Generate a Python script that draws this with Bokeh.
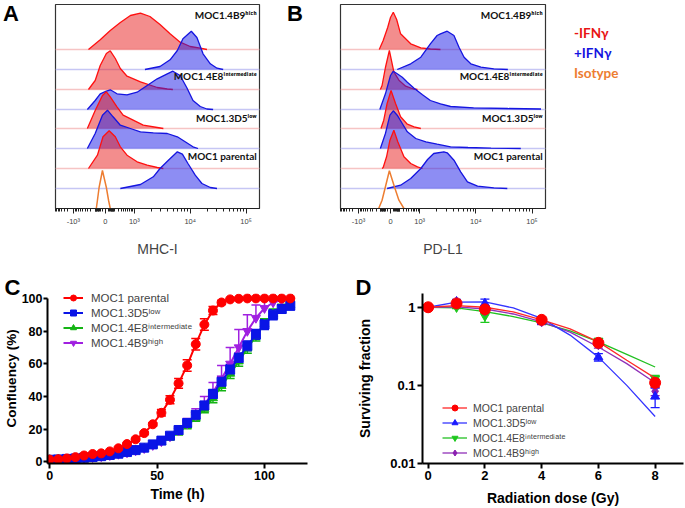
import math
from bokeh.plotting import figure
from bokeh.layouts import row, column
from bokeh.models import (Range1d, FixedTicker, Span, Label, Legend, LegendItem,
                          Whisker, TeeHead, ColumnDataSource, Title, Div)
from bokeh.embed import file_html
from bokeh.resources import INLINE

# ======================= DATA =======================
# --- Panels A/B: flow cytometry histograms (x in logicle display units) ---
flow_tick_values = [-0.57, 0.0, 0.52, 1.52, 2.52]
flow_tick_labels = ["-10³", "0", "10³", "10⁴", "10⁵"]
row_names = ["MOC1.4B9ʰⁱᵍʰ", "MOC1.4E8ⁱⁿᵗᵉʳᵐᵉᵈⁱᵃᵗᵉ", "MOC1.3D5ˡᵒʷ", "MOC1 parental"]
legend_ab = ["-IFNγ", "+IFNγ", "Isotype"]

mhc_4b9_neg_x = [-0.30, -0.09, 0.09, 0.27, 0.45, 0.63, 0.80, 0.98, 1.16, 1.34, 1.52, 1.70, 1.82]
mhc_4b9_neg_y = [0, 9.7, 19, 27, 34, 36.3, 33, 25, 15.7, 7.3, 3, 1.3, 0]
mhc_4b9_pos_x = [0.71, 0.98, 1.16, 1.29, 1.39, 1.54, 1.64, 1.75, 1.88, 2.0, 2.11]
mhc_4b9_pos_y = [0, 3, 9.7, 19, 30.7, 38.3, 32, 15.7, 5.7, 1.3, 0]
mhc_4e8_neg_x = [-0.30, -0.18, -0.09, 0.02, 0.09, 0.18, 0.27, 0.39, 0.63, 0.93, 1.11, 1.21]
mhc_4e8_neg_y = [0, 9, 24, 36, 38.7, 31, 21, 13.3, 7.7, 2, 0.5, 0]
mhc_4e8_pos_x = [-0.32, -0.18, -0.09, 0.02, 0.09, 0.21, 0.39, 0.57, 0.75, 0.93, 1.11, 1.21, 1.34, 1.46, 1.57, 1.70, 1.82, 1.93]
mhc_4e8_pos_y = [0, 9, 15.7, 18.3, 19.7, 15.7, 14.7, 17.3, 24, 30.7, 35.7, 38.3, 34, 21.7, 9, 3, 0.5, 0]
mhc_3d5_neg_x = [-0.32, -0.18, -0.05, 0.02, 0.09, 0.21, 0.32, 0.50, 0.68, 0.93, 1.04]
mhc_3d5_neg_y = [0, 18, 33, 36.7, 31.7, 21.7, 13.3, 8.3, 3.3, 1, 0]
mhc_3d5_pos_x = [-0.32, -0.18, -0.05, 0.04, 0.14, 0.27, 0.45, 0.63, 0.86, 1.11, 1.29, 1.43, 1.57, 1.66]
mhc_3d5_pos_y = [0, 15, 33.3, 38.3, 31.7, 23.3, 20, 16.7, 15.7, 15, 11.7, 6.7, 1.7, 0]
mhc_par_neg_x = [-0.30, -0.14, -0.04, 0.07, 0.18, 0.27, 0.39, 0.57, 0.75, 0.93, 1.04]
mhc_par_neg_y = [0, 13.3, 31.7, 37.7, 31.7, 21.7, 13.3, 6.7, 3.3, 1, 0]
mhc_par_pos_x = [0.27, 0.63, 0.86, 0.98, 1.13, 1.29, 1.38, 1.48, 1.61, 1.73, 1.88, 2.0]
mhc_par_pos_y = [0, 4, 11.7, 20, 28.3, 36.7, 34.3, 25, 13.3, 5, 1, 0]
mhc_iso_x = [-0.16, -0.14, -0.11, -0.05, 0.02, 0.06, 0.09]
mhc_iso_y = [0, 8, 21, 38, 21, 8, 0]

pdl1_4b9_neg_x = [-0.20, -0.13, -0.05, 0.0, 0.05, 0.11, 0.18, 0.36, 0.54, 0.71, 0.89]
pdl1_4b9_neg_y = [0, 9, 22, 32, 37.3, 30, 15.7, 5.7, 1.7, 0.5, 0]
pdl1_4b9_pos_x = [0.12, 0.36, 0.54, 0.71, 0.83, 0.89, 1.01, 1.13, 1.22, 1.31, 1.43, 1.61, 1.84, 2.09]
pdl1_4b9_pos_y = [0, 5.7, 12.3, 25.7, 34, 35.7, 38.3, 34, 22.3, 12.3, 5.7, 2.3, 0.7, 0]
pdl1_4e8_neg_x = [-0.18, -0.15, -0.09, -0.02, 0.06, 0.15, 0.27, 0.41, 0.48]
pdl1_4e8_neg_y = [0, 4, 22, 39, 17.7, 9.3, 3.3, 0.5, 0]
pdl1_4e8_pos_x = [-0.19, -0.09, 0.0, 0.05, 0.12, 0.21, 0.30, 0.42, 0.57, 0.71, 0.89, 1.07, 1.48, 2.09, 2.68]
pdl1_4e8_pos_y = [0, 15.7, 34, 38.3, 35.7, 32.3, 27.3, 21.3, 14.7, 9, 5.7, 3, 1.7, 1, 0.5]
pdl1_3d5_neg_x = [-0.17, -0.12, -0.06, 0.01, 0.09, 0.18, 0.30, 0.42, 0.54]
pdl1_3d5_neg_y = [0, 8.3, 25, 38, 25, 11.7, 4.3, 1.7, 0]
pdl1_3d5_pos_x = [-0.18, -0.09, -0.01, 0.05, 0.12, 0.21, 0.30, 0.45, 0.63, 0.83, 1.07, 1.38, 1.79, 2.32]
pdl1_3d5_pos_y = [0, 15, 33.3, 37.7, 33.3, 25, 16.7, 10, 6.7, 4.3, 1.7, 1, 0.3, 0]
pdl1_par_neg_x = [-0.15, -0.13, -0.07, -0.01, 0.06, 0.13, 0.24, 0.36, 0.48, 0.57]
pdl1_par_neg_y = [0, 1, 11.7, 28.3, 38.3, 26.7, 11.7, 5, 1.7, 0]
pdl1_par_pos_x = [-0.06, 0.18, 0.36, 0.54, 0.66, 0.77, 0.95, 1.01, 1.13, 1.25, 1.37, 1.55, 1.84, 2.08]
pdl1_par_pos_y = [0, 3.3, 10, 20, 29, 35, 36.7, 35.7, 28.3, 16.7, 6.7, 2.3, 0.7, 0]
pdl1_iso_x = [-0.21, -0.15, -0.09, -0.02, 0.07, 0.15, 0.24]
pdl1_iso_y = [0, 8.3, 21.7, 37.7, 21.7, 8.3, 0]

# --- Panel C: growth curves (confluency %) ---
time_h = [0, 4, 8, 12, 16, 20, 24, 28, 32, 36, 40, 44, 48, 52, 56, 60, 64, 68, 72, 76,
          80, 84, 88, 92, 96, 100, 104, 108, 112]
parental_conf = [1.4, 1.6, 2.1, 2.9, 3.9, 4.8, 5.2, 6.4, 8.3, 10.9, 13.8, 17.6, 23.0, 30.0, 38.0,
                 48.0, 59.0, 72.0, 84.0, 92.6, 97.5, 99.4, 99.8, 100, 100, 100, 100, 100, 100]
parental_sd = [0.3, 0.3, 0.3, 0.3, 0.3, 0.4, 0.4, 0.5, 0.6, 0.6, 0.7, 0.8, 1.0, 2.0, 2.5,
               3.0, 3.5, 3.5, 3.5, 2.5, 1.2, 0.6, 0.4, 0.3, 0.3, 0.3, 0.3, 0.3, 0.3]
low_conf = [1.3, 1.5, 1.8, 2.1, 2.5, 3.0, 3.5, 4.2, 5.0, 6.0, 7.2, 8.7, 10.7, 13.0, 16.0,
            19.5, 23.8, 28.8, 34.5, 41.5, 49.0, 56.5, 63.6, 71.0, 78.0, 84.0, 90.0, 93.5, 95.5]
low_sd = [0.3, 0.3, 0.3, 0.3, 0.3, 0.3, 0.3, 0.3, 0.4, 0.5, 0.6, 0.8, 1.0, 1.2, 1.5,
          1.8, 2.0, 2.2, 2.5, 2.8, 3.0, 3.0, 3.0, 3.0, 3.0, 3.0, 3.0, 2.5, 2.5]
inter_conf = [1.2, 1.4, 1.6, 1.9, 2.3, 2.7, 3.2, 3.9, 4.6, 5.5, 6.7, 8.1, 10.0, 12.2, 15.0,
              18.3, 22.3, 27.0, 32.5, 39.0, 46.5, 54.0, 61.5, 69.5, 77.0, 84.5, 90.5, 94.0, 96.0]
inter_sd = [0.3, 0.3, 0.3, 0.3, 0.3, 0.3, 0.3, 0.3, 0.4, 0.5, 0.6, 0.8, 1.0, 1.2, 1.5,
            1.8, 2.0, 2.2, 2.5, 2.8, 3.0, 3.0, 3.0, 3.0, 3.0, 3.0, 3.0, 2.5, 2.5]
time_high = [0, 4, 8, 12, 16, 20, 24, 28, 32, 36, 40, 44, 48, 52, 56, 60, 64, 68, 72, 76,
             80, 84, 88, 92, 96, 100, 104, 108]
high_conf = [1.3, 1.5, 1.7, 2.0, 2.4, 2.8, 3.3, 4.0, 4.8, 5.7, 6.9, 8.3, 10.2, 12.5, 15.5,
             19.0, 23.5, 28.5, 35.0, 42.5, 51.0, 60.0, 70.0, 80.0, 88.0, 94.0, 97.5, 99.0]
high_sd = [0.3, 0.3, 0.3, 0.3, 0.3, 0.4, 0.4, 0.5, 0.6, 0.7, 0.8, 1.0, 1.2, 1.5, 2.0,
           2.5, 3.0, 4.0, 5.0, 6.0, 8.0, 10.0, 11.0, 10.0, 8.0, 5.0, 3.0, 2.0]

# --- Panel D: clonogenic survival ---
dose_gy = [0, 1, 2, 4, 6, 8]
surv_parental = [1.0, 1.12, 0.94, 0.69, 0.35, 0.108]
surv_parental_err = [0.07, 0.07, 0.05, 0.06, 0.03, 0.012]
surv_low = [1.0, 1.18, 1.12, 0.66, 0.23, 0.072]
surv_low_err = [0.05, 0.08, 0.15, 0.05, 0.025, 0.02]
surv_inter = [1.0, 1.0, 0.77, 0.67, 0.37, 0.122]
surv_inter_err = [0.04, 0.04, 0.13, 0.05, 0.03, 0.012]
surv_high = [1.0, 1.1, 0.9, 0.65, 0.33, 0.084]
surv_high_err = [0.05, 0.05, 0.05, 0.05, 0.03, 0.01]
fit_dose = [0, 1, 2, 3, 4, 5, 6, 7, 8]
fit_parental = [1.0, 1.05, 1.0, 0.87, 0.69, 0.53, 0.36, 0.21, 0.124]
fit_low = [1.0, 1.16, 1.17, 0.98, 0.72, 0.44, 0.23, 0.10, 0.040]
fit_inter = [1.0, 0.98, 0.88, 0.76, 0.63, 0.50, 0.36, 0.25, 0.172]
fit_high = [1.0, 1.01, 0.95, 0.82, 0.65, 0.48, 0.31, 0.19, 0.108]

series_names = ["MOC1 parental", "MOC1.3D5ˡᵒʷ", "MOC1.4E8ⁱⁿᵗᵉʳᵐᵉᵈⁱᵃᵗᵉ", "MOC1.4B9ʰⁱᵍʰ"]

# ======================= STYLE / LAYOUT =======================
FONT = "Liberation Sans"
TOP_H, BOT_H = 262, 246
FLOW_T, FLOW_B = 4, 54
FLOW_XR = (-0.89, 2.76)
FLOW_YR = (0, 204)
ROW_OFFSETS = [159, 139, 119, 99, 80, 60, 40, 20, 0]
ROW_LABEL_Y = [194, 133, 91, 53]
RED_FILL, RED_LINE, RED_BASE = "#e81c1c", "#ff1010", "#f6c4c4"
BLUE_FILL, BLUE_LINE, BLUE_BASE = "#1c1ce8", "#1515e0", "#c6c6f4"
ORANGE = "#ed7d31"


def flow_minor_ticks():
    ticks = []
    for base in (0.52, 1.52, 2.52):
        for m in range(2, 10):
            v = base + math.log10(m)
            if v < FLOW_XR[1]:
                ticks.append(v)
    for m in range(1, 10):
        ticks.append(0.52 * math.sqrt(m / 10))
        ticks.append(-0.57 * math.sqrt(m / 10))
        ticks.append(0.52 * math.sqrt(m / 100))
        ticks.append(-0.57 * math.sqrt(m / 100))
    for m in range(2, 10):
        v = -0.57 - 0.35 * math.log10(m)
        if v > FLOW_XR[0]:
            ticks.append(v)
    return ticks


def flow_panel(width, left, right, axis_label, curves, iso):
    p = figure(width=width, height=TOP_H, output_backend="svg", toolbar_location=None,
               x_range=Range1d(*FLOW_XR), y_range=Range1d(*FLOW_YR), y_axis_location=None,
               min_border_left=left, min_border_right=right,
               min_border_top=FLOW_T, min_border_bottom=FLOW_B)
    p.xgrid.visible = False
    p.ygrid.visible = False
    p.outline_line_color = "#333333"
    p.outline_line_width = 1.2
    ax = p.xaxis[0]
    ax.ticker = FixedTicker(ticks=flow_tick_values, minor_ticks=flow_minor_ticks())
    ax.major_label_overrides = {v: t for v, t in zip(flow_tick_values, flow_tick_labels)}
    ax.major_label_text_font = FONT
    ax.major_label_text_font_size = "7.5px"
    ax.major_label_standoff = 3
    ax.major_tick_out = 5
    ax.major_tick_in = 0
    ax.minor_tick_out = 3
    ax.minor_tick_in = 0
    ax.axis_line_color = "#222222"
    ax.major_tick_line_color = "#222222"
    ax.minor_tick_line_color = "#222222"
    ax.axis_label = axis_label
    ax.axis_label_text_font = FONT
    ax.axis_label_text_font_style = "normal"
    ax.axis_label_text_font_size = "14px"
    ax.axis_label_standoff = 12

    for i, (xs, hs) in enumerate(curves):
        base = ROW_OFFSETS[i]
        is_red = (i % 2 == 0)
        p.add_layout(Span(location=base, dimension="width", level="underlay",
                          line_color=RED_BASE if is_red else BLUE_BASE, line_width=1.3))
        top = [base + h for h in hs]
        p.varea(x=xs, y1=[base] * len(xs), y2=top,
                fill_color=RED_FILL if is_red else BLUE_FILL, fill_alpha=0.5)
        p.line(xs, top, line_color=RED_LINE if is_red else BLUE_LINE, line_width=1.3)
    p.line(iso[0], [ROW_OFFSETS[-1] + h for h in iso[1]], line_color=ORANGE, line_width=1.5)

    for name, yv in zip(row_names, ROW_LABEL_Y):
        p.add_layout(Label(x=2.71, y=yv, text=name, text_align="right", text_baseline="middle",
                           text_font="Lato", text_font_style="bold", text_font_size="10px",
                           text_color="#111111"))
    return p


def letter_div(letter, width, height, pad_left):
    return Div(text=f'<div style="font-family:\'{FONT}\';font-weight:bold;font-size:22px;'
                    f'line-height:25px;padding-top:1px;padding-left:{pad_left}px;color:black;">'
                    f'{letter}</div>',
               width=width, height=height, margin=0)


pA = flow_panel(260, 33, 23, "MHC-I",
                [(mhc_4b9_neg_x, mhc_4b9_neg_y), (mhc_4b9_pos_x, mhc_4b9_pos_y),
                 (mhc_4e8_neg_x, mhc_4e8_neg_y), (mhc_4e8_pos_x, mhc_4e8_pos_y),
                 (mhc_3d5_neg_x, mhc_3d5_neg_y), (mhc_3d5_pos_x, mhc_3d5_pos_y),
                 (mhc_par_neg_x, mhc_par_neg_y), (mhc_par_pos_x, mhc_par_pos_y)],
                (mhc_iso_x, mhc_iso_y))
pB = flow_panel(241, 34, 2, "PD-L1",
                [(pdl1_4b9_neg_x, pdl1_4b9_neg_y), (pdl1_4b9_pos_x, pdl1_4b9_pos_y),
                 (pdl1_4e8_neg_x, pdl1_4e8_neg_y), (pdl1_4e8_pos_x, pdl1_4e8_pos_y),
                 (pdl1_3d5_neg_x, pdl1_3d5_neg_y), (pdl1_3d5_pos_x, pdl1_3d5_pos_y),
                 (pdl1_par_neg_x, pdl1_par_neg_y), (pdl1_par_pos_x, pdl1_par_pos_y)],
                (pdl1_iso_x, pdl1_iso_y))

divA = letter_div("A", 22, TOP_H, 3)
divB = letter_div("B", 24, TOP_H, 5)
leg_colors = ["#e81414", "#1414e0", ORANGE]
leg_html = "".join(f'<div style="color:{c};">{t}</div>' for t, c in zip(legend_ab, leg_colors))
divLeg = Div(text='<div style="font-family:Lato;font-weight:bold;font-size:13.5px;line-height:20px;'
                  f'padding-top:23px;padding-left:27px;">{leg_html}</div>',
             width=137, height=TOP_H, margin=0)


def style_xy_axes(p, tick_size):
    p.xgrid.visible = False
    p.ygrid.visible = False
    p.outline_line_color = None
    for ax in (p.xaxis[0], p.yaxis[0]):
        ax.axis_line_width = 2
        ax.axis_line_color = "black"
        ax.major_tick_line_width = 2
        ax.major_tick_out = 5
        ax.major_tick_in = 0
        ax.minor_tick_line_color = None
        ax.major_label_text_font = FONT
        ax.major_label_text_font_style = "bold"
        ax.major_label_text_font_size = tick_size
        ax.major_label_text_color = "black"
        ax.major_label_standoff = 2
        ax.axis_label_text_font = FONT
        ax.axis_label_text_font_style = "bold"
        ax.axis_label_text_font_size = "14px"
        ax.axis_label_text_color = "black"


def add_letter(p, letter, offset, standoff):
    p.add_layout(Title(text=letter, align="left", offset=offset, standoff=standoff,
                       text_font=FONT, text_font_style="bold", text_font_size="22px",
                       text_color="black"), "above")


# ---------------- Panel C ----------------
C_W, C_L, C_R, C_T, C_B = 340, 46, 33, 24, 44
C_XR, C_YR = (-1, 120), (-1, 103)
pC = figure(width=C_W, height=BOT_H, output_backend="svg", toolbar_location=None,
            x_range=Range1d(*C_XR), y_range=Range1d(*C_YR),
            min_border_left=C_L, min_border_right=C_R, min_border_top=C_T, min_border_bottom=C_B)
style_xy_axes(pC, "12.5px")
pC.xaxis[0].ticker = FixedTicker(ticks=[0, 50, 100])
pC.yaxis[0].ticker = FixedTicker(ticks=[0, 20, 40, 60, 80, 100])
pC.yaxis[0].bounds = (-1, 100)
pC.yaxis[0].major_tick_out = 4
pC.yaxis[0].major_label_standoff = 1
pC.yaxis[0].axis_label_text_font_size = "13.5px"
pC.xaxis[0].axis_label = "Time (h)"
pC.yaxis[0].axis_label = "Confluency (%)"
pC.xaxis[0].axis_label_standoff = 3
pC.yaxis[0].axis_label_standoff = 0

c_series = [
    ("inter", time_h, inter_conf, inter_sd, "#14b414", "triangle", True),
    ("high", time_high, high_conf, high_sd, "#a020e0", "inverted_triangle", False),
    ("low", time_h, low_conf, low_sd, "#0a14e6", "square", True),
    ("par", time_h, parental_conf, parental_sd, "#ff0000", "circle", True),
]
c_renderers = {}
for key, t, m, sd, col, mk, both in c_series:
    src = ColumnDataSource(dict(x=t, upper=[a + b for a, b in zip(m, sd)],
                                lower=[a - b for a, b in zip(m, sd)] if both else list(m)))
    pC.add_layout(Whisker(source=src, base="x", upper="upper", lower="lower",
                          line_color=col, line_width=1.5,
                          upper_head=TeeHead(size=9, line_color=col, line_width=1.5),
                          lower_head=TeeHead(size=9, line_color=col, line_width=1.5) if both else None))
    ln = pC.line(t, m, line_color=col, line_width=2)
    sc = pC.scatter(t, m, marker=mk, size=9, fill_color=col, line_color=col)
    c_renderers[key] = [ln, sc]

legC = Legend(items=[LegendItem(label=series_names[0], renderers=c_renderers["par"]),
                     LegendItem(label=series_names[1], renderers=c_renderers["low"]),
                     LegendItem(label=series_names[2], renderers=c_renderers["inter"]),
                     LegendItem(label=series_names[3], renderers=c_renderers["high"])],
              location=(16, 113), border_line_color=None, background_fill_alpha=0,
              label_text_font=FONT, label_text_font_size="11.5px", glyph_width=20,
              glyph_height=15, label_height=15, spacing=0, padding=0, margin=0,
              label_standoff=8)
pC.add_layout(legC)
add_letter(pC, "C", -43, -12)

# ---------------- Panel D ----------------
D_W, D_L, D_R, D_T, D_B = 344, 82, 1, 31, 45
D_XR, D_YR = (-0.2, 9.0), (0.01, 1.5)
pD = figure(width=D_W, height=BOT_H, output_backend="svg", toolbar_location=None,
            x_range=Range1d(*D_XR), y_range=Range1d(*D_YR), y_axis_type="log",
            min_border_left=D_L, min_border_right=D_R, min_border_top=D_T, min_border_bottom=D_B)
style_xy_axes(pD, "13px")
pD.xaxis[0].ticker = FixedTicker(ticks=[0, 2, 4, 6, 8])
pD.yaxis[0].ticker = FixedTicker(ticks=[0.01, 0.1, 1])
pD.yaxis[0].major_label_overrides = {0.01: "0.01", 0.1: "0.1", 1: "1"}
pD.xaxis[0].axis_label = "Radiation dose (Gy)"
pD.yaxis[0].axis_label = "Surviving fraction"
pD.xaxis[0].axis_label_standoff = 7
pD.yaxis[0].axis_label_standoff = 14

d_series = [
    ("inter", surv_inter, surv_inter_err, fit_inter, "#1ec81e", "#22c022", "inverted_triangle", 9),
    ("high", surv_high, surv_high_err, fit_high, "#8a1fb0", "#9030b8", "diamond", 10),
    ("low", surv_low, surv_low_err, fit_low, "#1a1aff", "#3535ff", "triangle", 9),
    ("par", surv_parental, surv_parental_err, fit_parental, "#ff0000", "#ff2828", "circle", 11),
]
d_renderers = {}
for key, m, err, fit, col, lcol, mk, sz in d_series:
    src = ColumnDataSource(dict(x=dose_gy, upper=[a + b for a, b in zip(m, err)],
                                lower=[a - b for a, b in zip(m, err)]))
    pD.add_layout(Whisker(source=src, base="x", upper="upper", lower="lower",
                          line_color=col, line_width=1.3,
                          upper_head=TeeHead(size=9, line_color=col, line_width=1.3),
                          lower_head=TeeHead(size=9, line_color=col, line_width=1.3)))
    ln = pD.line(fit_dose, fit, line_color=lcol, line_width=1.3)
    sc = pD.scatter(dose_gy, m, marker=mk, size=sz, fill_color=col, line_color=col)
    d_renderers[key] = [ln, sc]

legD = Legend(items=[LegendItem(label=series_names[0], renderers=d_renderers["par"]),
                     LegendItem(label=series_names[1], renderers=d_renderers["low"]),
                     LegendItem(label=series_names[2], renderers=d_renderers["inter"]),
                     LegendItem(label=series_names[3], renderers=d_renderers["high"])],
              location=(20, 3), border_line_color=None, background_fill_alpha=0,
              label_text_font=FONT, label_text_font_size="10.5px", glyph_width=25,
              glyph_height=15, label_height=15, spacing=0, padding=0, margin=0,
              label_standoff=6)
pD.add_layout(legD)
add_letter(pD, "D", -67, -13)

layout = column(row(divA, pA, divB, pB, divLeg), row(pC, pD))
open("out.html", "w").write(file_html(layout, INLINE))
